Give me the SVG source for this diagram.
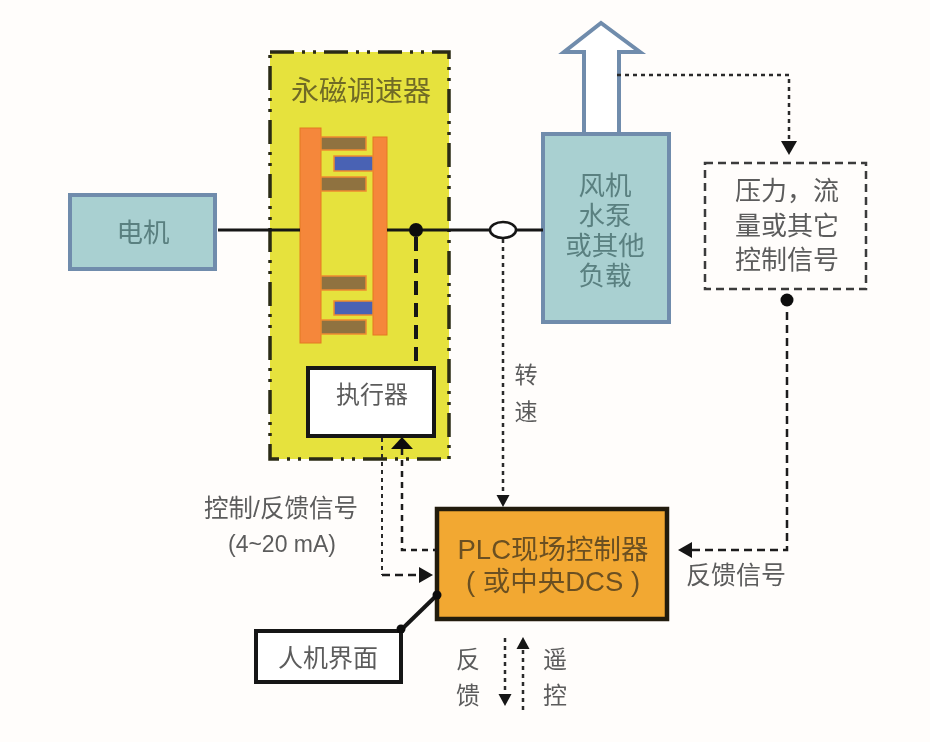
<svg xmlns="http://www.w3.org/2000/svg" width="930" height="742" viewBox="0 0 930 742">
<defs>
<marker id="tri" markerUnits="userSpaceOnUse" markerWidth="18" markerHeight="20" refX="1" refY="10" orient="auto"><path d="M1 2L15 10L1 18Z" fill="#151515"/></marker>
<marker id="tris" markerUnits="userSpaceOnUse" markerWidth="16" markerHeight="16" refX="1" refY="8" orient="auto"><path d="M1 1.500L13 8L1 14.500Z" fill="#151515"/></marker>
<filter id="soft" x="0" y="0" width="100%" height="100%"><feGaussianBlur stdDeviation="0.55"/></filter>
</defs>
<style>
text{font-family:"Liberation Sans","Noto Sans CJK SC",sans-serif;fill:#5c5c5c;text-anchor:middle;font-size:25px}
.teal{fill:#a9d0d1;stroke:#6f8cac;stroke-width:4}
.onteal{fill:#5a8080;font-size:26.500px}
.plate{fill:#f5873a;stroke:#e47820;stroke-width:1}
.brown{fill:#8f7240;stroke:#ee8a30;stroke-width:1.500}
.blue{fill:#4a62b4;stroke:#ee8a30;stroke-width:1.500}
.shaft{fill:none;stroke:#151515;stroke-width:3}
.dot{fill:none;stroke:#2a2a2a;stroke-width:2.500;stroke-dasharray:4 4}
.dash{fill:none;stroke:#1a1a1a;stroke-width:2.500;stroke-dasharray:8 5}
.thick{fill:none;stroke:#151515;stroke-width:4;stroke-dasharray:14 8}
.box{fill:#fff;stroke:#151515;stroke-width:4}
</style>
<g filter="url(#soft)">
<rect width="930" height="742" fill="#fffdfb"/>
<g id="regulator">
<rect x="270" y="52" width="179" height="407" fill="#e6e23c" stroke="#2a2a14" stroke-width="3.500" stroke-dasharray="24 8 3 8 3 8"/>
<text x="361" y="101" style="fill:#6f6a28;font-size:28px">永磁调速器</text>
<rect class="plate" x="300" y="128" width="21" height="215"/>
<rect class="plate" x="373" y="137" width="14" height="198"/>
<rect class="brown" x="321" y="137" width="45" height="13"/>
<rect class="blue" x="334" y="156" width="39" height="15"/>
<rect class="brown" x="321" y="177" width="45" height="14"/>
<rect class="brown" x="321" y="276" width="45" height="14"/>
<rect class="blue" x="334" y="301" width="39" height="14"/>
<rect class="brown" x="321" y="320" width="45" height="14"/>
</g>
<g id="motor"><rect class="teal" x="70" y="195" width="145" height="74"/><text x="143" y="242" class="onteal">电机</text></g>
<g id="load">
<path d="M584 133V52H564L601 23L640 52H619V133" fill="#fff" stroke="#6f8cac" stroke-width="4"/>
<rect class="teal" x="543" y="134" width="126" height="188"/>
<text class="onteal"><tspan x="605" y="195">风机</tspan><tspan x="605" y="225">水泵</tspan><tspan x="605" y="255">或其他</tspan><tspan x="605" y="285">负载</tspan></text>
</g>
<g id="sensor"><rect x="705" y="163" width="161" height="126" fill="none" stroke="#3a3a3a" stroke-width="2.500" stroke-dasharray="8 5"/>
<text style="font-size:26px"><tspan x="787" y="200">压力，流</tspan><tspan x="787" y="235">量或其它</tspan><tspan x="787" y="269">控制信号</tspan></text></g>
<g id="actuator"><rect class="box" x="308" y="368" width="126" height="68"/><text x="372" y="403" style="font-size:24px">执行器</text></g>
<g id="plc"><rect x="437" y="509" width="230" height="110" fill="#f2a833" stroke="#241a0a" stroke-width="4.500"/>
<text style="font-size:27.500px;fill:#6b5020"><tspan x="553" y="559">PLC现场控制器</tspan><tspan x="553" y="591">( 或中央DCS )</tspan></text></g>
<g id="hmi"><rect class="box" x="256" y="631" width="145" height="51"/><text x="328" y="667">人机界面</text></g>
<g id="connectors">
<path class="shaft" d="M218 230H300M387 230H491M516 230H543"/>
<ellipse cx="503" cy="230" rx="13" ry="8" fill="#fff" stroke="#151515" stroke-width="2.500"/>
<circle cx="416" cy="230" r="7" fill="#111"/>
<path class="thick" d="M416 237V367"/>
<path class="dot" d="M503 239V495" marker-end="url(#tris)"/>
<path class="dot" d="M382 438V575" style="stroke-width:2"/>
<path class="dash" d="M382 575H419" marker-end="url(#tri)"/>
<path class="dash" d="M402 449V550H437" style="stroke-dasharray:6 5"/>
<path d="M402 437L391 449H413Z" fill="#111"/>
<path class="dot" d="M617 75H789V141" marker-end="url(#tri)"/>
<circle cx="787" cy="300" r="6.500" fill="#111"/>
<path class="dash" d="M787 312V550H692" marker-end="url(#tri)"/>
<path class="shaft" d="M401 630L437 595" style="stroke-width:4"/>
<circle cx="401" cy="629" r="4.500" fill="#111"/><circle cx="437" cy="595" r="4.500" fill="#111"/>
<path class="dot" d="M505 638V694" marker-end="url(#tris)"/>
<path class="dot" d="M523 710V649" marker-end="url(#tris)"/>
</g>
<g id="labels">
<text x="526" y="383" style="font-size:23px">转</text><text x="526" y="420" style="font-size:23px">速</text>
<text x="281" y="517" style="font-size:24.500px">控制/反馈信号</text>
<text x="282" y="552" style="font-size:23px">(4~20 mA)</text>
<text x="736" y="584">反馈信号</text>
<text x="468" y="668" style="font-size:24px">反</text><text x="468" y="704" style="font-size:24px">馈</text>
<text x="555" y="668" style="font-size:24px">遥</text><text x="555" y="704" style="font-size:24px">控</text>
</g>
</g>
</svg>
